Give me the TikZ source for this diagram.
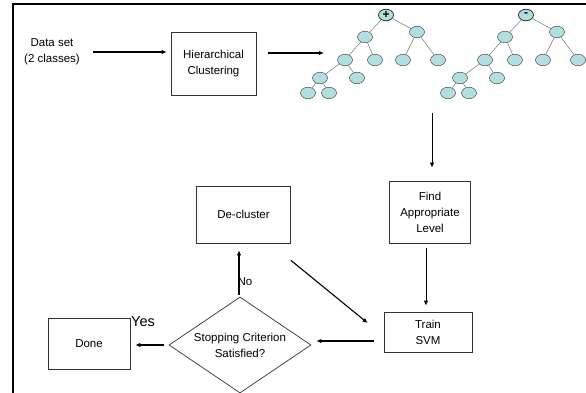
\documentclass[tikz,border=0pt]{standalone}
\usepackage{fontspec}
\setmainfont{Liberation Sans}
\usetikzlibrary{arrows.meta,shapes,positioning}

\definecolor{leafcyan}{RGB}{178,222,224}

\tikzset{
  stepbox/.style={draw=black!80, line width=0.7pt, rectangle, align=center, inner sep=0pt,
    font=\fontsize{11.5}{16}\selectfont},
  choice/.style={draw=black!80, line width=0.7pt, diamond, aspect=1.48, align=center, inner sep=0pt,
    minimum width=142pt, minimum height=96pt, font=\fontsize{11.5}{16}\selectfont},
  leaf/.style={draw=black!80, ellipse, fill=leafcyan, minimum width=15pt, minimum height=11.5pt,
    inner sep=0pt, font=\fontsize{12}{12}\bfseries},
  twig/.style={draw=black!55, line width=0.5pt},
  flow/.style={draw=black, line width=1.1pt, -{Latex[length=5pt,width=4.5pt]}},
  note/.style={align=center, inner sep=0pt, font=\fontsize{11.5}{16}\selectfont}
}

\begin{document}
\begin{tikzpicture}[x=1pt, y=-1pt]
  \useasboundingbox (0,0) rectangle (586,393);
  % slide frame
  \draw[line width=2.2pt] (13,393) -- (13,4) -- (586,4);

  % steps
  \node[note] (data) at (52,52) {Data set\\(2 classes)};
  \node[stepbox, minimum width=85pt, minimum height=63pt] (hier) at (213.5,63.5) {Hierarchical\\Clustering};
  \node[stepbox, minimum width=81pt, minimum height=62pt] (find) at (430,212) {Find\\Appropriate\\Level};
  \node[stepbox, minimum width=88pt, minimum height=40pt] (train) at (428,332) {Train\\SVM};
  \node[stepbox, minimum width=94pt, minimum height=57pt] (declus) at (243.5,214.5) {De-cluster};
  \node[stepbox, minimum width=82pt, minimum height=51pt] (done) at (89,343.5) {Done};
  \node[choice] (stop) at (240,345) {Stopping Criterion\\Satisfied?};

  % the two cluster trees
  \foreach \tn/\dx/\sgn in {pos/0/+, neg/140/-} {
    \begin{scope}[xshift=\dx pt]
      \node[leaf, line width=0.8pt] (\tn-root) at (386,15) {\raisebox{0.5pt}{\sgn}};
      \node[leaf] (\tn-l) at (365,37) {};
      \node[leaf] (\tn-r) at (417,32) {};
      \node[leaf] (\tn-ll) at (345,60) {};
      \node[leaf] (\tn-lr) at (375,60) {};
      \node[leaf] (\tn-rl) at (403,60) {};
      \node[leaf] (\tn-rr) at (438,60) {};
      \node[leaf] (\tn-lll) at (320,78) {};
      \node[leaf] (\tn-llr) at (357,78) {};
      \node[leaf] (\tn-llll) at (308,93) {};
      \node[leaf] (\tn-lllr) at (329,93) {};
      \foreach \a/\b in {root/l, root/r, l/ll, l/lr, r/rl, r/rr, ll/lll, ll/llr, lll/llll, lll/lllr}
        \draw[twig] (\tn-\a) -- (\tn-\b);
    \end{scope}
  }
  \coordinate (treein) at (324,53);
  \coordinate (treeout) at (432,113);

  % arrows
  \draw[flow, line width=1.2pt, shorten <=13pt, shorten >=4pt] (data.east) -- (hier.west |- data.east);
  \draw[flow, shorten <=12pt] (hier.east |- treein) -- (treein);
  \draw[flow, line width=0.8pt, shorten >=13pt] (treeout) -- (treeout |- find.north);
  \draw[flow, line width=0.8pt, shorten <=5pt, shorten >=6pt] ([xshift=-4pt]find.south) -- ([xshift=-4pt]find.south |- train.north);
  \draw[flow, shorten <=10pt, shorten >=5pt] ([yshift=-9pt]train.west) -- ([yshift=-9pt]train.west -| stop.east);
  \draw[flow, shorten <=5pt, shorten >=5pt] (stop.west) -- (done.east |- stop.west);
  \draw[flow, line width=1.6pt, shorten <=2pt, shorten >=7pt] ([xshift=-1pt]stop.north) -- ([xshift=-1pt]stop.north |- declus.south);
  \draw[flow] ([yshift=-17pt]declus.south east) -- ([shift={(-16pt,9pt)}]train.west);

  % labels
  \node[note] (no) at (245,282) {No};
  \node[note, font=\fontsize{14.5}{14.5}\selectfont] (yes) at (143,322) {Yes};
\end{tikzpicture}
\end{document}
